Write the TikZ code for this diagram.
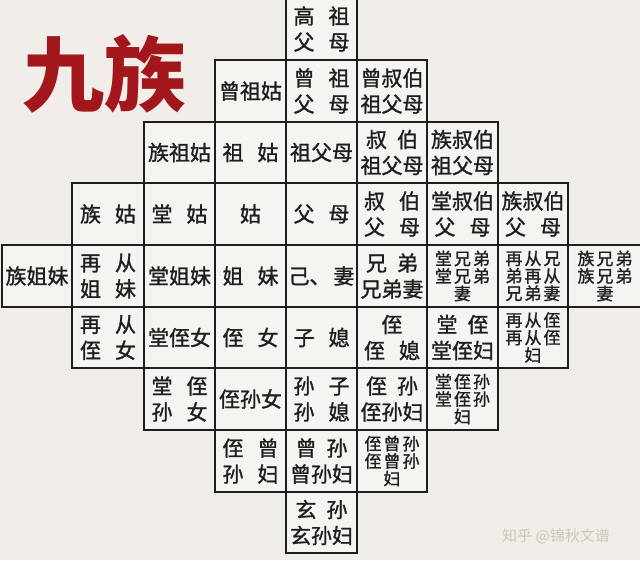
\documentclass[tikz,border=0pt]{standalone}
\usepackage{fontspec}
\newfontfamily\cjk[FakeBold=1.2]{Noto Sans CJK SC}
\newfontfamily\cjkt{Noto Sans CJK SC}
\definecolor{bgc}{HTML}{F1EEE9}
\definecolor{cellc}{HTML}{F6F4F0}
\definecolor{linec}{HTML}{1E1E1E}
\definecolor{titlered}{HTML}{A3161B}
\definecolor{wmc}{HTML}{CAC6C0}
\newcommand\Gp{\hspace{14pt}}
\newcommand\Gq{\hspace{10pt}}
\newcommand\Gs{\hspace{2pt}}
\newcommand\Cell[5]{%
 \pgfmathsetmacro\xa{{2,72,144,215,286,357,427,498,568,642}[#2]}%
 \pgfmathsetmacro\xb{{2,72,144,215,286,357,427,498,568,642}[#2+1]}%
 \pgfmathsetmacro\ya{{-2,60,122,183,245,307,368,430,492,553}[#3]}%
 \pgfmathsetmacro\yb{{-2,60,122,183,245,307,368,430,492,553}[#3+1]}%
 \node[cellbox,#4,minimum width={(\xb-\xa)*1pt},minimum height={(\yb-\ya)*1pt}] (#1) at ({(\xa+\xb)/2},{(\ya+\yb)/2}) {#5};}
\tikzset{
 cellbox/.style={draw=linec, line width=2pt, fill=cellc, inner sep=0pt, align=center, text=linec},
 big/.style={font=\cjk\fontsize{21}{26}\selectfont},
 small/.style={font=\cjk\fontsize{17}{17.5}\selectfont}
}
\begin{document}
\begin{tikzpicture}[x=1pt,y=-1pt]
\fill[bgc] (0,0) rectangle (640,560);
\useasboundingbox (0,0) rectangle (640,560);
\node[font=\cjkt\bfseries\fontsize{82}{82}\selectfont, text=titlered, inner sep=0pt] (title) at (105,74) {九族};
% row 0
\Cell{c40}{4}{0}{big}{高\Gp 祖\\父\Gp 母}
% row 1
\Cell{c31}{3}{1}{big}{曾祖姑}
\Cell{c41}{4}{1}{big}{曾\Gp 祖\\父\Gp 母}
\Cell{c51}{5}{1}{big}{曾叔伯\\祖父母}
% row 2
\Cell{c22}{2}{2}{big}{族祖姑}
\Cell{c32}{3}{2}{big}{祖\Gp 姑}
\Cell{c42}{4}{2}{big}{祖父母}
\Cell{c52}{5}{2}{big}{叔\Gq 伯\\祖父母}
\Cell{c62}{6}{2}{big}{族叔伯\\祖父母}
% row 3
\Cell{c13}{1}{3}{big}{族\Gp 姑}
\Cell{c23}{2}{3}{big}{堂\Gp 姑}
\Cell{c33}{3}{3}{big}{姑}
\Cell{c43}{4}{3}{big}{父\Gp 母}
\Cell{c53}{5}{3}{big}{叔\Gp 伯\\父\Gp 母}
\Cell{c63}{6}{3}{big}{堂叔伯\\父\Gp 母}
\Cell{c73}{7}{3}{big}{族叔伯\\父\Gp 母}
% row 4
\Cell{c04}{0}{4}{big}{族姐妹}
\Cell{c14}{1}{4}{big}{再\Gp 从\\姐\Gp 妹}
\Cell{c24}{2}{4}{big}{堂姐妹}
\Cell{c34}{3}{4}{big}{姐\Gp 妹}
\Cell{c44}{4}{4}{big}{己、\hspace{3pt}妻}
\Cell{c54}{5}{4}{big}{兄\Gq 弟\\兄弟妻}
\Cell{c64}{6}{4}{small}{堂\Gs 兄\Gs 弟\\堂\Gs 兄\Gs 弟\\妻}
\Cell{c74}{7}{4}{small}{再\Gs 从\Gs 兄\\弟\Gs 再\Gs 从\\兄\Gs 弟\Gs 妻}
\Cell{c84}{8}{4}{small}{族\Gs 兄\Gs 弟\\族\Gs 兄\Gs 弟\\妻}
% row 5
\Cell{c15}{1}{5}{big}{再\Gp 从\\侄\Gp 女}
\Cell{c25}{2}{5}{big}{堂侄女}
\Cell{c35}{3}{5}{big}{侄\Gp 女}
\Cell{c45}{4}{5}{big}{子\Gp 媳}
\Cell{c55}{5}{5}{big}{侄\\侄\Gp 媳}
\Cell{c65}{6}{5}{big}{堂\Gq 侄\\堂侄妇}
\Cell{c75}{7}{5}{small}{再\Gs 从\Gs 侄\\再\Gs 从\Gs 侄\\妇}
% row 6
\Cell{c26}{2}{6}{big}{堂\Gp 侄\\孙\Gp 女}
\Cell{c36}{3}{6}{big}{侄孙女}
\Cell{c46}{4}{6}{big}{孙\Gp 子\\孙\Gp 媳}
\Cell{c56}{5}{6}{big}{侄\Gq 孙\\侄孙妇}
\Cell{c66}{6}{6}{small}{堂\Gs 侄\Gs 孙\\堂\Gs 侄\Gs 孙\\妇}
% row 7
\Cell{c37}{3}{7}{big}{侄\Gp 曾\\孙\Gp 妇}
\Cell{c47}{4}{7}{big}{曾\Gq 孙\\曾孙妇}
\Cell{c57}{5}{7}{small}{侄\Gs 曾\Gs 孙\\侄\Gs 曾\Gs 孙\\妇}
% row 8
\Cell{c48}{4}{8}{big}{玄\Gq 孙\\玄孙妇}
\node[font=\cjkt\fontsize{15}{15}\selectfont, text=wmc, inner sep=0pt] (wm) at (556,536) {知乎 @锦秋文谱};
\end{tikzpicture}
\end{document}
